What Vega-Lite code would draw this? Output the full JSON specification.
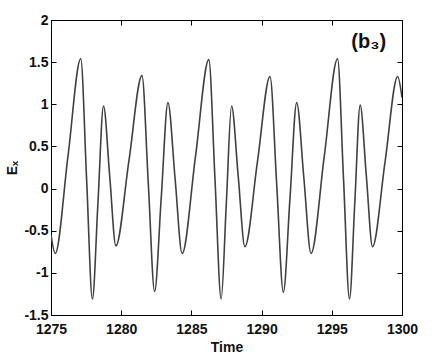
{
  "$schema": "https://vega.github.io/schema/vega-lite/v6.json",
  "width": 351,
  "height": 295,
  "autosize": "none",
  "padding": {"left": 51, "top": 20, "right": 30, "bottom": 49},
  "background": "white",
  "config": {
    "view": {"stroke": "black", "strokeWidth": 1},
    "axis": {
      "grid": false,
      "domainColor": "black",
      "tickColor": "black",
      "labelFont": "Liberation Sans, Arial",
      "labelFontWeight": "bold",
      "labelFontSize": 14,
      "labelColor": "#111111",
      "titleFont": "Liberation Sans, Arial",
      "titleFontWeight": "bold",
      "titleFontSize": 14,
      "titleColor": "#111111"
    }
  },
  "layer": [
    {
      "data": {
        "values": [
          {"t": 1275.00, "v": -0.55},
          {"t": 1275.30, "v": -0.77},
          {"t": 1276.21, "v": 0.385},
          {"t": 1277.12, "v": 1.54},
          {"t": 1277.535, "v": 0.115},
          {"t": 1277.95, "v": -1.31},
          {"t": 1278.345, "v": -0.165},
          {"t": 1278.74, "v": 0.98},
          {"t": 1279.18, "v": 0.15},
          {"t": 1279.62, "v": -0.68},
          {"t": 1280.55, "v": 0.33},
          {"t": 1281.48, "v": 1.34},
          {"t": 1281.93, "v": 0.06},
          {"t": 1282.38, "v": -1.22},
          {"t": 1282.855, "v": -0.1},
          {"t": 1283.33, "v": 1.02},
          {"t": 1283.835, "v": 0.125},
          {"t": 1284.34, "v": -0.77},
          {"t": 1285.29, "v": 0.38},
          {"t": 1286.24, "v": 1.53},
          {"t": 1286.68, "v": 0.11},
          {"t": 1287.12, "v": -1.31},
          {"t": 1287.49, "v": -0.165},
          {"t": 1287.86, "v": 0.98},
          {"t": 1288.335, "v": 0.145},
          {"t": 1288.81, "v": -0.69},
          {"t": 1289.705, "v": 0.32},
          {"t": 1290.60, "v": 1.33},
          {"t": 1291.075, "v": 0.05},
          {"t": 1291.55, "v": -1.23},
          {"t": 1292.025, "v": -0.105},
          {"t": 1292.50, "v": 1.02},
          {"t": 1293.01, "v": 0.125},
          {"t": 1293.52, "v": -0.77},
          {"t": 1294.465, "v": 0.385},
          {"t": 1295.41, "v": 1.54},
          {"t": 1295.835, "v": 0.115},
          {"t": 1296.26, "v": -1.31},
          {"t": 1296.64, "v": -0.16},
          {"t": 1297.02, "v": 0.99},
          {"t": 1297.46, "v": 0.15},
          {"t": 1297.90, "v": -0.69},
          {"t": 1298.795, "v": 0.32},
          {"t": 1299.69, "v": 1.33},
          {"t": 1300.00, "v": 1.08}
        ]
      },
      "mark": {"type": "line", "interpolate": "monotone", "color": "#404040", "strokeWidth": 1.6, "clip": true},
      "encoding": {
        "x": {
          "field": "t", "type": "quantitative",
          "scale": {"domain": [1275, 1300], "nice": false, "zero": false},
          "axis": {
            "orient": "bottom", "title": "Time", "format": "d",
            "values": [1275, 1280, 1285, 1290, 1295, 1300],
            "tickSize": -5, "labelPadding": 12, "titlePadding": 4,
            "labelFlush": false
          }
        },
        "y": {
          "field": "v", "type": "quantitative",
          "scale": {"domain": [-1.5, 2], "nice": false, "zero": false},
          "axis": {
            "orient": "left", "title": "Eₓ", "format": "~g",
            "values": [-1.5, -1, -0.5, 0, 0.5, 1, 1.5, 2],
            "tickSize": -5, "labelPadding": 8, "titlePadding": 4,
            "labelExpr": "replace(datum.label, '\u2212', '-')"
          }
        }
      }
    },
    {
      "data": {"values": [{"t": 1297.63, "v": 1.74, "label": "(b₃)"}]},
      "mark": {"type": "text", "font": "Liberation Sans, Arial", "fontWeight": "bold", "fontSize": 20, "color": "#111111", "baseline": "middle", "align": "center"},
      "encoding": {
        "x": {
          "field": "t", "type": "quantitative",
          "scale": {"domain": [1275, 1300], "nice": false, "zero": false},
          "axis": {"orient": "top", "title": null, "labels": false, "tickSize": -5, "values": [1275, 1280, 1285, 1290, 1295, 1300]}
        },
        "y": {
          "field": "v", "type": "quantitative",
          "scale": {"domain": [-1.5, 2], "nice": false, "zero": false},
          "axis": {"orient": "right", "title": null, "labels": false, "tickSize": -5, "values": [-1.5, -1, -0.5, 0, 0.5, 1, 1.5, 2]}
        },
        "text": {"field": "label"}
      }
    }
  ],
  "resolve": {"axis": {"x": "independent", "y": "independent"}}
}
